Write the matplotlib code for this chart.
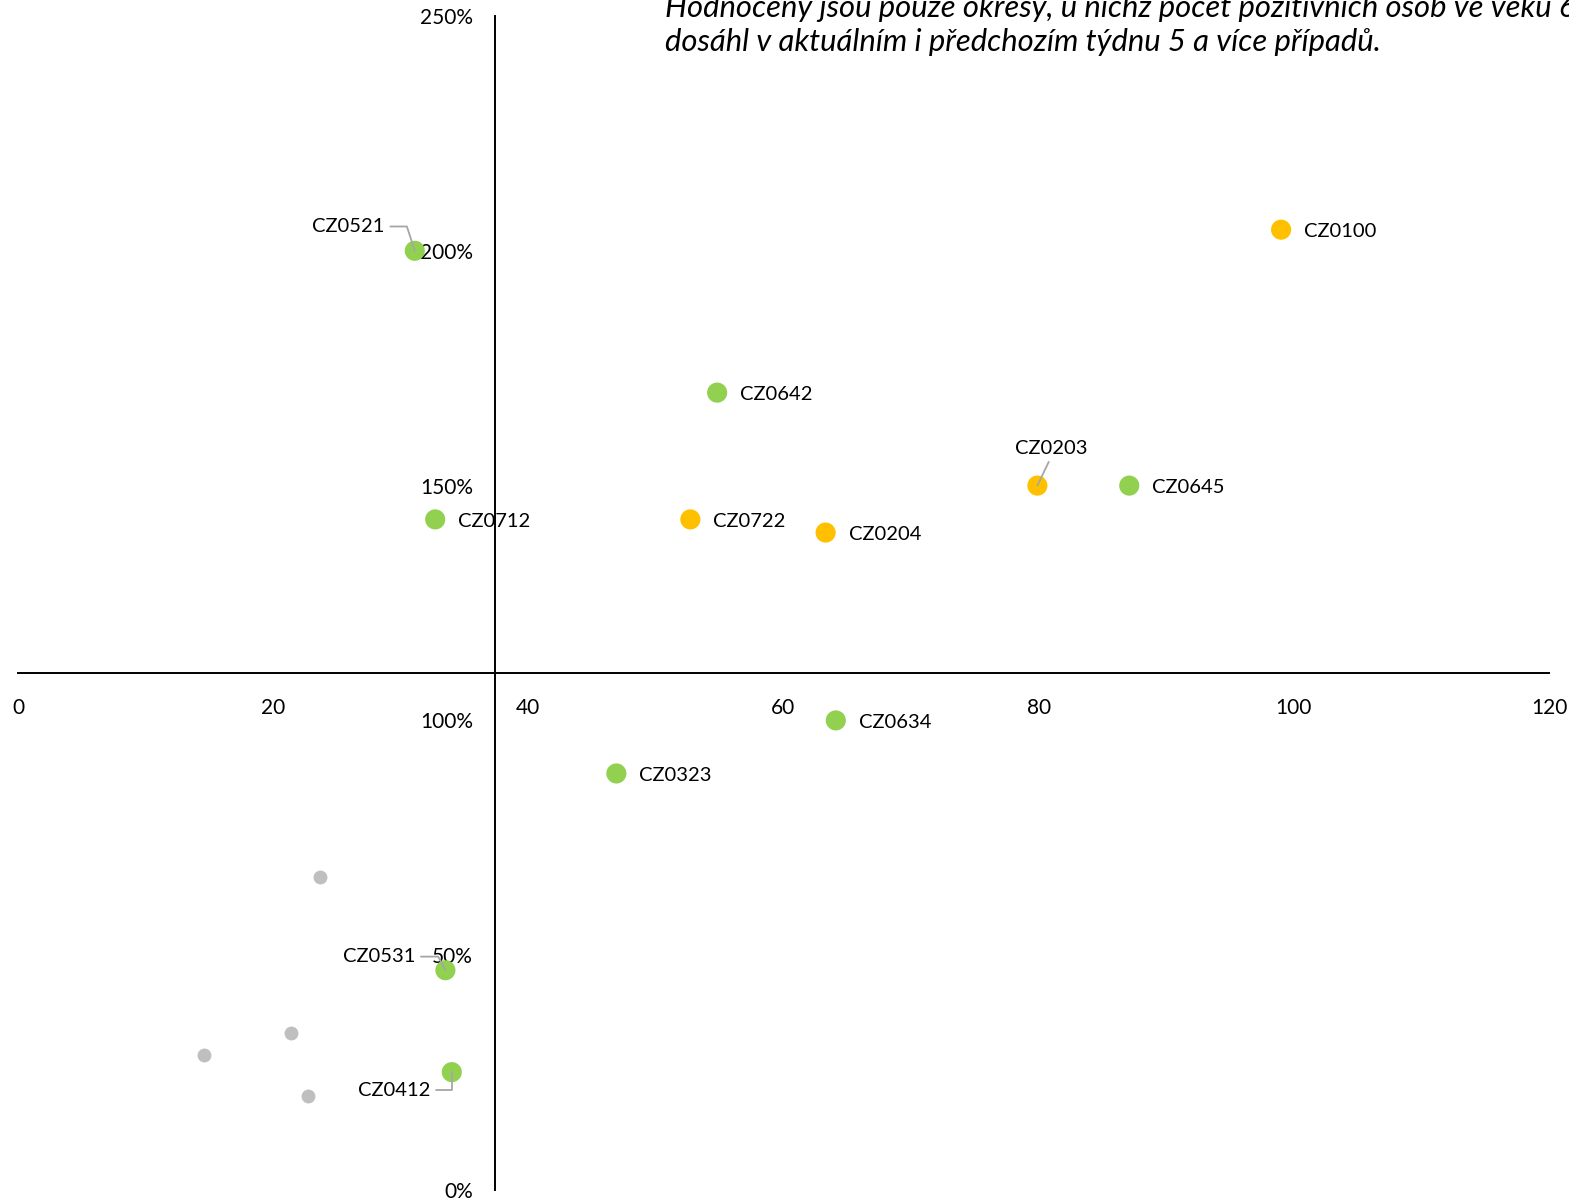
import matplotlib.pyplot as plt
from matplotlib.ticker import FuncFormatter

plt.rcParams['font.family'] = ['Lato', 'DejaVu Sans']

# Okresy s popiskem
names = ['CZ0521', 'CZ0100', 'CZ0642', 'CZ0203', 'CZ0645', 'CZ0712', 'CZ0722',
         'CZ0204', 'CZ0634', 'CZ0323', 'CZ0531', 'CZ0412']
x_vals = [31.1, 99.0, 54.8, 79.9, 87.1, 32.7, 52.7, 63.3, 64.1, 46.9, 33.5, 34.0]
y_vals = [200.0, 204.5, 169.8, 150.0, 150.0, 142.8, 142.8, 140.0, 100.0, 88.7, 46.8, 25.1]
groups = ['g', 'o', 'g', 'o', 'g', 'g', 'o', 'o', 'g', 'g', 'g', 'g']

# Ostatni okresy (sede, bez popisku)
gray_x = [23.7, 21.4, 14.6, 22.7]
gray_y = [66.6, 33.4, 28.7, 20.0]

x_ticks = [0, 20, 40, 60, 80, 100, 120]
y_ticks = [0, 50, 100, 150, 200, 250]

CROSS_X = 37.4
CROSS_Y = 110

COLORS = {'g': '#92D050', 'o': '#FFC000'}
LEADER = '#A6A6A6'

# posuny popisku v bodech (dx, dy, ha, connectionstyle, relpos)
label_pos = {
    'CZ0521': (-21.6, 17.5, 'right', 'angle,angleA=0,angleB=-72,rad=0', (1, 0.5)),
    'CZ0531': (-21.6, 9.8, 'right', 'angle,angleA=0,angleB=-62,rad=0', (1, 0.5)),
    'CZ0412': (-15.1, -13.2, 'right', 'angle,angleA=0,angleB=90,rad=0', (1, 0.5)),
    'CZ0203': (10.0, 27.0, 'center', 'arc3', (0.5, 0)),
}

fig = plt.figure(figsize=(15.69, 12), dpi=100)
ax = fig.add_axes([18 / 1569, 10 / 1200, 1531 / 1569, 1174 / 1200])

ax.scatter(gray_x, gray_y, s=100, color='#BFBFBF', zorder=3, linewidths=0)
ax.scatter(x_vals, y_vals, s=210, color=[COLORS[g] for g in groups], zorder=3, linewidths=0)

for n, x, y in zip(names, x_vals, y_vals):
    if n in label_pos:
        dx, dy, ha, cs, rp = label_pos[n]
        ax.annotate(n, xy=(x, y), xytext=(dx, dy), textcoords='offset points',
                    ha=ha, va='center', fontsize=14.5, zorder=4,
                    arrowprops=dict(arrowstyle='-', color=LEADER, lw=1.3,
                                    connectionstyle=cs, relpos=rp,
                                    shrinkA=2, shrinkB=0))
    else:
        ax.annotate(n, xy=(x, y), xytext=(16.5, -1.3), textcoords='offset points',
                    ha='left', va='center', fontsize=14.5, zorder=4)

ax.set_xlim(0, 120)
ax.set_ylim(0, 250)
ax.set_xticks(x_ticks)
ax.set_yticks(y_ticks)
ax.yaxis.set_major_formatter(FuncFormatter(lambda v, p: f'{v:.0f}%'))

ax.spines['top'].set_visible(False)
ax.spines['right'].set_visible(False)
ax.spines['left'].set_position(('data', CROSS_X))
ax.spines['bottom'].set_position(('data', CROSS_Y))
for s in ['left', 'bottom']:
    ax.spines[s].set_linewidth(1.4)
    ax.spines[s].set_zorder(2)
ax.tick_params(axis='both', length=0, labelsize=15)
ax.tick_params(axis='y', pad=16)
ax.tick_params(axis='x', pad=18)
for lab in ax.get_yticklabels() + ax.get_xticklabels():
    lab.set_clip_on(False)

fig.text(665 / 1569, 1 - 25 / 1200,
         'Hodnoceny jsou pouze okresy, u nichž počet pozitivních osob ve věku 65+\n'
         'dosáhl v aktuálním i předchozím týdnu 5 a více případů.',
         style='italic', fontsize=22.3, ha='left', va='center', linespacing=1.3)

fig.savefig('out.png', dpi=100)
